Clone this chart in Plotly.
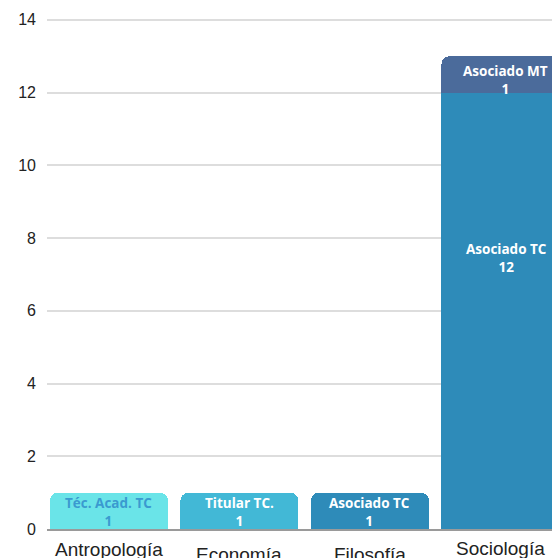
import plotly.graph_objects as go

categories = ["Antropología", "Economía", "Filosofía", "Sociología"]
series_names = ["Téc. Acad. TC", "Titular TC.", "Asociado TC", "Asociado MT"]
tec_acad_tc = [1, None, None, None]
titular_tc = [None, 1, None, None]
asociado_tc = [None, None, 1, 12]
asociado_mt = [None, None, None, 1]
series_values = [tec_acad_tc, titular_tc, asociado_tc, asociado_mt]
colors = ["#6ae4e8", "#42b8d6", "#2e8bb9", "#4b6b9b"]
label_colors = ["#3a9ad0", "#ffffff", "#ffffff", "#ffffff"]
y_ticks = [0, 2, 4, 6, 8, 10, 12, 14]

fig = go.Figure()
stack_base = [0] * len(categories)
for name, vals, col, lcol in zip(series_names, series_values, colors, label_colors):
    fig.add_trace(go.Bar(
        x=categories, y=vals, name=name,
        marker=dict(color=col, line=dict(width=0)),
        hoverinfo="skip",
    ))
    for i, (c, v) in enumerate(zip(categories, vals)):
        if v is None:
            continue
        top = stack_base[i] + v
        label = f"<b>{name}</b><br><b>{v}</b>"
        if v >= 5:
            fig.add_annotation(x=c, y=stack_base[i] + v * 0.62, xref="x", yref="y",
                               xshift=6, text=label, showarrow=False,
                               font=dict(family="Open Sans", size=13.5, color=lcol))
        else:
            fig.add_annotation(x=c, y=top, xref="x", yref="y", yanchor="top",
                               yshift=1 if stack_base[i] == 0 else -4,
                               xshift=5 if stack_base[i] > 0 else 0,
                               text=label, showarrow=False,
                               font=dict(family="Open Sans", size=13.5, color=lcol))
        stack_base[i] = top

label_shift = [-8, -13, -13, -7]
for c, s in zip(categories, label_shift):
    fig.add_annotation(
        x=c, y=0, xref="x", yref="y", yanchor="top", yshift=s,
        text=c, showarrow=False,
        font=dict(family="Liberation Sans, Arial", size=19, color="#222222"),
    )

fig.update_layout(
    width=552, height=558,
    margin=dict(l=47, r=0, t=18, b=29),
    barmode="stack", bargap=0.096, barcornerradius=8,
    plot_bgcolor="white", paper_bgcolor="white",
    showlegend=False,
    xaxis=dict(range=[-0.475, 3.395], showticklabels=False, showgrid=False,
               showline=True, linecolor="#9a9a9a", linewidth=1.5, ticks=""),
    yaxis=dict(range=[0, 14.05], tickvals=y_ticks, showgrid=True,
               gridcolor="#dddddd", gridwidth=1.5, zeroline=False,
               showline=False, ticks="", ticklen=0, ticklabelstandoff=10,
               tickfont=dict(family="Liberation Sans, Arial", size=16, color="#222222")),
)

fig.write_html("out.html", config={"displayModeBar": False},
               post_script="document.body.style.margin='0';document.body.style.overflow='hidden';")
